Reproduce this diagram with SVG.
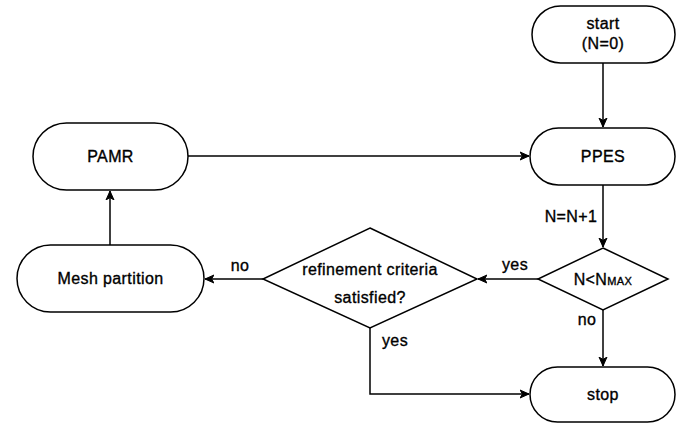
<svg xmlns="http://www.w3.org/2000/svg" width="681" height="423" viewBox="0 0 681 423">
<defs>
<style>
.node{fill:#fff;stroke:#000;stroke-width:1.5}
.edge{fill:none;stroke:#000;stroke-width:1.5;marker-end:url(#arr)}
text{font-family:"Liberation Sans",Arial,sans-serif;font-size:16px;fill:#000;stroke:#000;stroke-width:0.35;letter-spacing:0.4px;text-anchor:middle}
</style>
<marker id="arr" markerUnits="userSpaceOnUse" markerWidth="10" markerHeight="10" viewBox="0 0 10 10" refX="9" refY="5" orient="auto">
<path d="M0,1 L9,5 L0,9 L2.5,5 Z" fill="#000" stroke="#000" stroke-width="1"/>
</marker>
</defs>
<rect width="681" height="423" fill="#fff"/>
<g id="connectors">
<path class="edge" d="M603,63 L603,127"/>
<path class="edge" d="M603,185 L603,247"/>
<path class="edge" d="M538,279 L478,279"/>
<path class="edge" d="M263,279 L205,279"/>
<path class="edge" d="M110,245 L110,191"/>
<path class="edge" d="M188,156 L529,156"/>
<path class="edge" d="M603,310 L603,366"/>
<path class="edge" d="M370,328 L370,394 L529,394"/>
</g>
<g id="labels">
<text x="571" y="222">N=N+1</text>
<text x="515" y="270">yes</text>
<text x="240" y="271">no</text>
<text x="587" y="325">no</text>
<text x="395" y="346">yes</text>
</g>
<g id="start">
<rect class="node" x="532" y="6" width="143" height="57" rx="28.5"/>
<text x="603" y="29">start</text>
<text x="603" y="49">(N=0)</text>
</g>
<g id="ppes">
<rect class="node" x="530" y="128" width="145" height="57" rx="28.5"/>
<text x="603" y="162">PPES</text>
</g>
<g id="pamr">
<rect class="node" x="33" y="123" width="155" height="67" rx="33.5"/>
<text x="110.5" y="162">PAMR</text>
</g>
<g id="mesh">
<rect class="node" x="17" y="245" width="187" height="67" rx="33.5"/>
<text x="110.5" y="284">Mesh partition</text>
</g>
<g id="nmax">
<path class="node" d="M603,248 L668,279 L603,310 L538,279 Z"/>
<text x="603" y="285">N&lt;N<tspan font-size="11">MAX</tspan></text>
</g>
<g id="refine">
<path class="node" d="M370,228 L477,279 L370,328 L263,279 Z"/>
<text x="370" y="275">refinement criteria</text>
<text x="370" y="303">satisfied?</text>
</g>
<g id="stop">
<rect class="node" x="530" y="367" width="145" height="55" rx="27.5"/>
<text x="603" y="400">stop</text>
</g>
</svg>
